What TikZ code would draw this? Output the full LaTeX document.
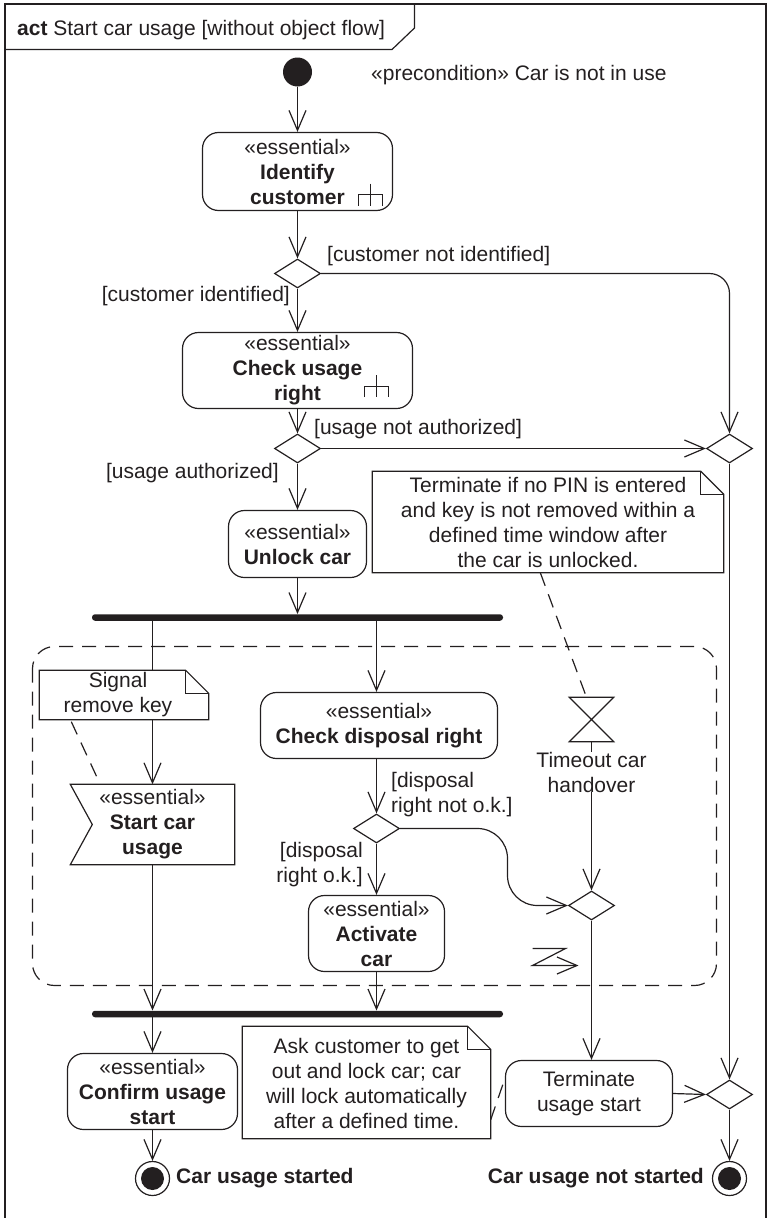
\documentclass[tikz,border=0pt]{standalone}
\usepackage{fontspec}
\setmainfont{Liberation Sans}
\usetikzlibrary{arrows.meta,shapes.geometric,backgrounds,calc}
\definecolor{ink}{RGB}{35,31,32}
\newcommand\myrake[1]{\draw[line] ($(#1)+(-12,0)$) -- ++(0,-11) -- ++(24,0) -- ++(0,11) ($(#1)+(0,-22)$) -- (#1);}
\begin{document}
\begin{tikzpicture}[x=1pt,y=-1pt,
  every node/.style={font=\fontsize{21pt}{25pt}\selectfont, text=ink},
  line/.style={draw=ink, line width=1.2pt},
  flow/.style={line, -{Straight Barb[length=20pt,width=17pt]}},
  actbox/.style={line, rounded corners=16pt, align=center, inner sep=0pt},
  decision/.style={line, diamond, inner sep=0pt, minimum width=46pt, minimum height=29pt},
  notebg/.style={fill=white, inner sep=0pt},
  noteline/.style={line, dash pattern=on 14pt off 9pt},
  bar/.style={fill=ink, inner sep=0pt, minimum height=6.5pt, rounded corners=3pt},
  lbl/.style={inner sep=0pt, align=center},
]
\useasboundingbox (0,0) rectangle (769,1218);
% frame
\draw[ink, line width=1.8pt] (5,1218) -- (5,4) -- (766,4) -- (766,1218);
\draw[line] (5,49.5) -- (392,49.5) -- (414.5,28) -- (414.5,4);
\node[lbl, anchor=west] (hdr) at (17,30) {\textbf{act} Start car usage [without object flow]};

% initial and precondition
\node[circle, fill=ink, minimum size=29pt, inner sep=0pt] (init) at (297.5,72) {};
\node[lbl, anchor=west] (pre) at (371,75) {«precondition» Car is not in use};

% activities
\node[actbox, minimum width=190pt, minimum height=78pt] (ident) at (297.5,171.5) {«essential»\\\textbf{Identify}\\\textbf{customer}};
\myrake{$(ident.south east)+(-22.5,-5.5)$}
\node[decision] (dec1) at (297.5,273.5) {};
\node[actbox, minimum width=230pt, minimum height=76pt] (cur) at (297.5,370.5) {«essential»\\\textbf{Check usage}\\\textbf{right}};
\myrake{$(cur.south east)+(-37,-12)$}
\node[decision] (dec2) at (297.5,448.5) {};
\node[decision] (R1) at (729.5,448.5) {};
\node[actbox, minimum width=138pt, minimum height=67pt] (unlock) at (297.5,544) {«essential»\\\textbf{Unlock car}};

\node[bar, minimum width=411pt] (fork1) at (297.5,617.5) {};

% interruptible region
\draw[line, dash pattern=on 14pt off 9pt, rounded corners=22pt] (32.5,646.5) rectangle (716.5,985.5);

\node[minimum width=164pt, minimum height=80pt, align=center, inner sep=0pt] (scu) at (152.5,824.5) {«essential»\\\textbf{Start car}\\\textbf{usage}};
\draw[line] (scu.north west) -- (scu.north east) -- (scu.south east) -- (scu.south west) -- ([xshift=22pt]scu.west) -- cycle;

\node[actbox, minimum width=237pt, minimum height=66pt] (cdr) at (379,725.5) {«essential»\\\textbf{Check disposal right}};
\node[decision] (dec3) at (376.5,828.5) {};
\node[actbox, minimum width=136pt, minimum height=76pt] (act) at (376.5,933.5) {«essential»\\\textbf{Activate}\\\textbf{car}};

\node[inner sep=0pt, minimum width=44pt, minimum height=44pt] (hg) at (591.5,719.5) {};
\draw[line] (hg.north west) -- (hg.north east) -- (hg.south west) -- (hg.south east) -- cycle;
\node[lbl] (tl) at (591.5,772) {Timeout car\\handover};
\node[decision] (m2) at (591.5,905.5) {};

\node[bar, minimum width=411pt] (join) at (297.5,1014) {};

\node[actbox, minimum width=170pt, minimum height=76pt] (conf) at (152.5,1091.5) {«essential»\\\textbf{Confirm usage}\\\textbf{start}};
\node[actbox, minimum width=167pt, minimum height=66pt] (term) at (589,1093.5) {Terminate\\usage start};
\node[decision] (R2) at (729.5,1094.5) {};

\node[circle, line, minimum size=34pt, inner sep=0pt] (f1) at (152.5,1178.5) {};
\fill[ink] (f1.center) circle (11.5pt);
\node[circle, line, minimum size=34pt, inner sep=0pt] (f2) at (729.5,1178.5) {};
\fill[ink] (f2.center) circle (11.5pt);
\node[lbl, anchor=west] (fl1) at (176,1178) {\textbf{Car usage started}};
\node[lbl, anchor=east] (fl2) at (704,1178) {\textbf{Car usage not started}};

% guards
\node[lbl, anchor=west] (l1) at (327,256) {[customer not identified]};
\node[lbl, anchor=east] (l2) at (290,296) {[customer identified]};
\node[lbl, anchor=west] (l3) at (314,429) {[usage not authorized]};
\node[lbl, anchor=east] (l4) at (279,473) {[usage authorized]};
\node[lbl, anchor=west, align=left] (l5) at (391,795) {[disposal\\right not o.k.]};
\node[lbl, anchor=east, align=right] (l6) at (363,865) {[disposal\\right o.k.]};

% notes
\node[notebg, minimum width=351pt, minimum height=101pt] (n1) at (548,522) {};
\node[lbl] (n1t) at (548,522) {Terminate if no PIN is entered\\and key is not removed within a\\defined time window after\\the car is unlocked.};
\draw[line] (n1.north west) -- ([xshift=-23pt]n1.north east) -- ([yshift=-23pt]n1.north east) -- (n1.south east) -- (n1.south west) -- cycle;
\draw[line] ([xshift=-23pt]n1.north east) |- ([yshift=-23pt]n1.north east);

\node[notebg, minimum width=169pt, minimum height=49pt] (sn) at (124,695) {};
\node[lbl] (snt) at (118,695) {Signal\\remove key};
\draw[line] (sn.north west) -- ([xshift=-23pt]sn.north east) -- ([yshift=-23pt]sn.north east) -- (sn.south east) -- (sn.south west) -- cycle;
\draw[line] ([xshift=-23pt]sn.north east) |- ([yshift=-23pt]sn.north east);

\node[notebg, minimum width=248pt, minimum height=112pt] (n2) at (366.5,1082.5) {};
\node[lbl] (n2t) at (366.5,1083.5) {Ask customer to get\\out and lock car; car\\will lock automatically\\after a defined time.};
\draw[line] (n2.north west) -- ([xshift=-23pt]n2.north east) -- ([yshift=-23pt]n2.north east) -- (n2.south east) -- (n2.south west) -- cycle;
\draw[line] ([xshift=-23pt]n2.north east) |- ([yshift=-23pt]n2.north east);

% interrupting edge
\coordinate (z0) at (532.5,948.5);
\coordinate (z1) at (565.5,948.5);
\coordinate (z2) at (532.5,965.5);
\coordinate (z3) at (578.5,965.5);
\draw[flow] (z0) -- (z1) -- (z2) -- (z3);

\begin{scope}[on background layer]
\draw[flow] (init.south) -- (ident.north);
\draw[flow] (ident.south) -- (dec1.north);
\draw[flow] (dec1.south) -- (cur.north -| dec1.south);
\draw[flow, rounded corners=20pt] (dec1.east) -- (dec1.east -| R1.north) -- (R1.north);
\draw[flow] (cur.south -| dec2.north) -- (dec2.north);
\draw[flow] (dec2.east) -- (R1.west);
\draw[flow] (dec2.south) -- (dec2.south |- unlock.north);
\draw[flow] (unlock.south -| dec2.south) -- (dec2.south |- fork1.north);
\draw[flow] (scu.north |- fork1.south) -- (scu.north);
\draw[flow] (dec3.north |- fork1.south) -- (dec3.north |- cdr.north);
\draw[flow] (dec3.north |- cdr.south) -- (dec3.north);
\draw[flow] (dec3.south) -- (act.north);
\draw[flow, rounded corners=30pt] (dec3.east) -- (507.5,828.5) -- (507.5,905.5) -- (m2.west);
\draw[line] (hg.south) -- (tl.north);
\draw[flow] (tl.south) -- (m2.north);
\draw[flow] (R1.south) -- (R2.north);
\draw[flow] (scu.south) -- (scu.south |- join.north);
\draw[flow] (act.south) -- (act.south |- join.north);
\draw[flow] (conf.north |- join.south) -- (conf.north);
\draw[flow] (conf.south) -- (f1.north);
\draw[flow] (m2.south) -- (m2.south |- term.north);
\draw[flow] (term.east) -- (R2.west);
\draw[flow] (R2.south) -- (f2.north);
\draw[noteline] ($(n1.south west)+(168,0)$) -- ($(hg.north)+(-5,0)$);
\draw[noteline] ($(sn.south west)+(32,2)$) -- ($(scu.north west)+(29,-2)$);
\draw[noteline] ($(n2.south east)+(0,-19)$) -- ($(term.west)+(0,-15)$);
\end{scope}
\end{tikzpicture}
\end{document}
